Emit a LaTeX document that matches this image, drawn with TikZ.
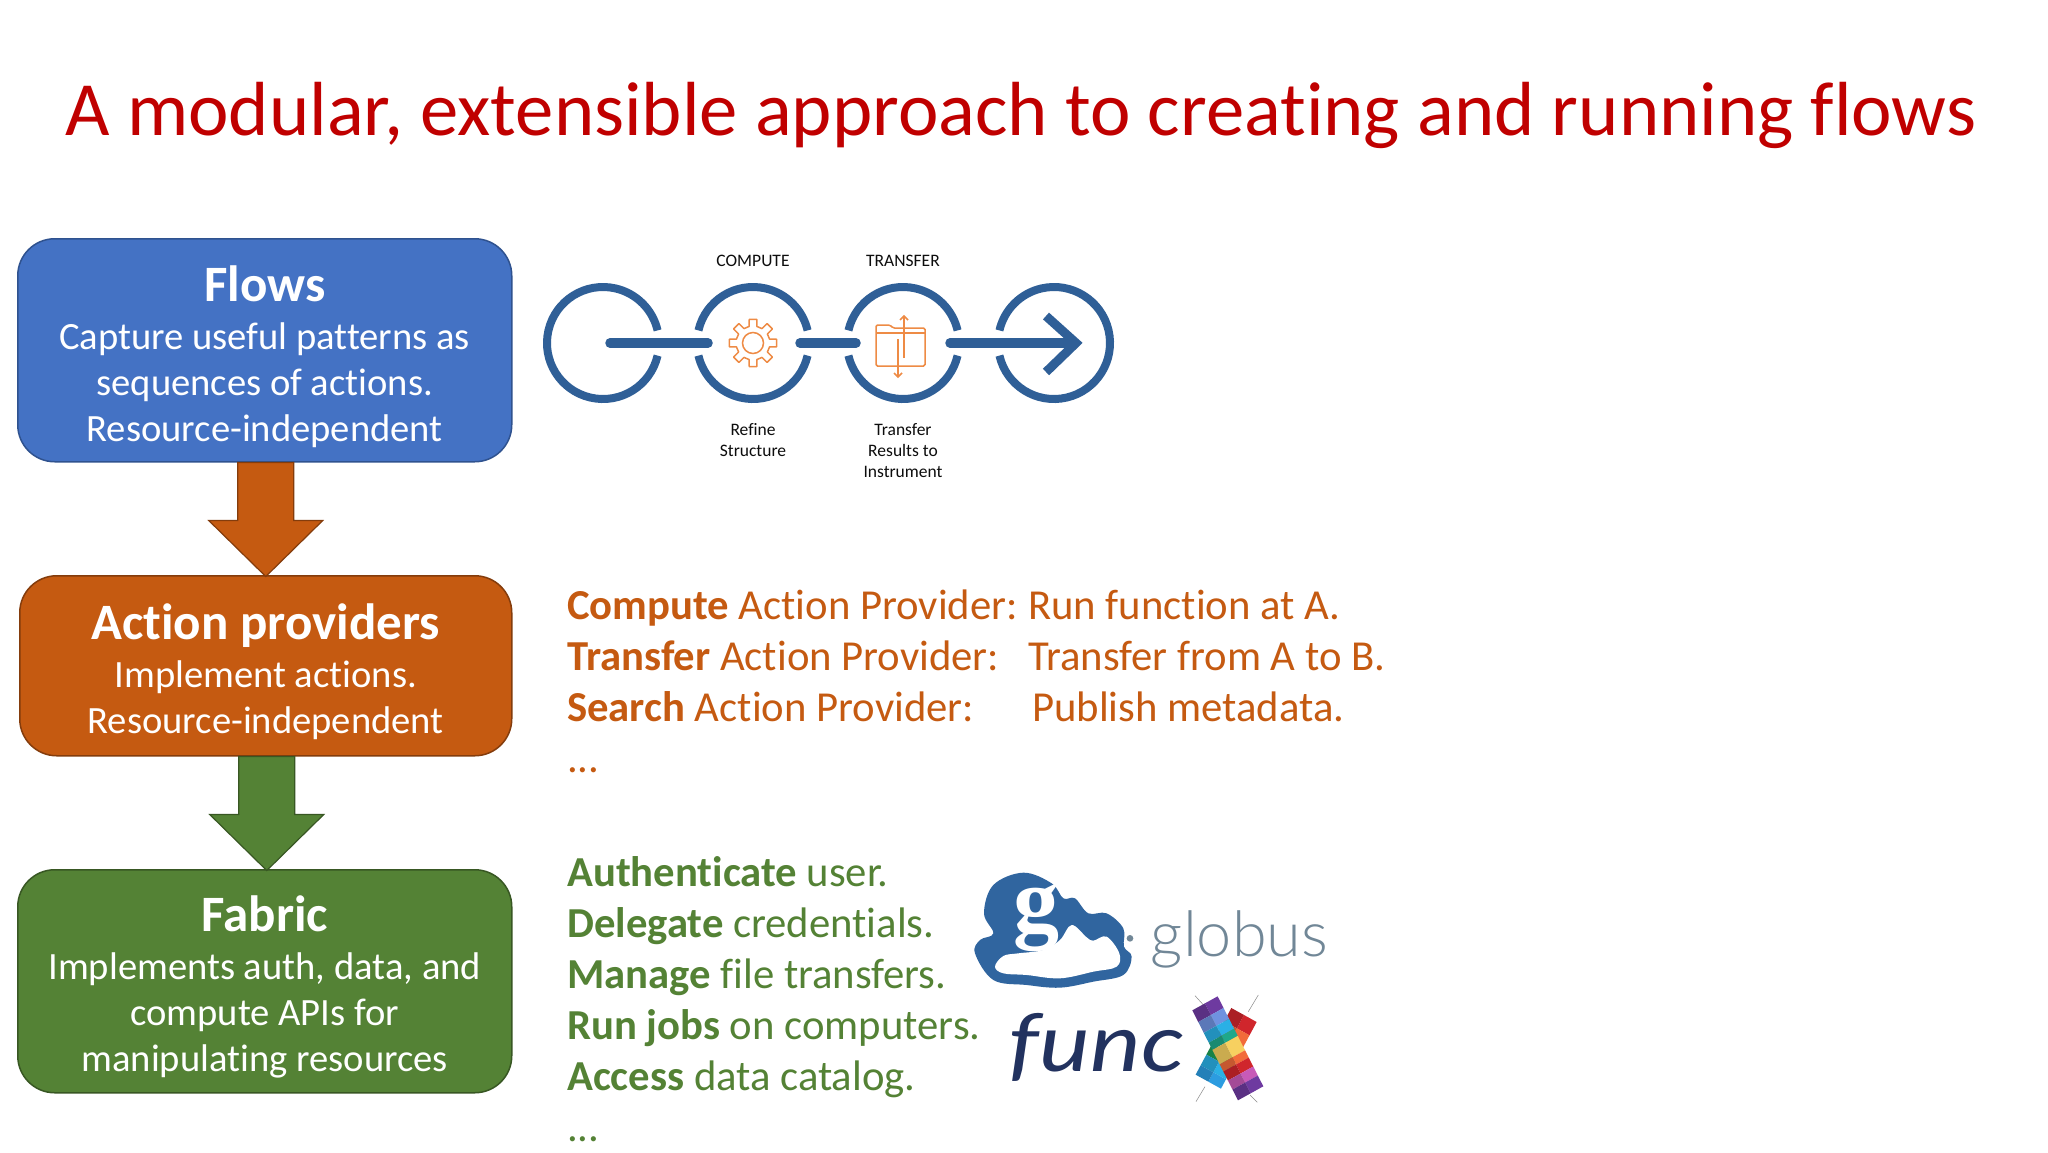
\documentclass[tikz,border=0pt]{standalone}
\usepackage{fontspec}
\setmainfont[RawFeature={-liga}]{Carlito}
\newfontfamily\lato{Lato}
\newfontfamily\latolight{Lato Light}
\newfontfamily\serifg{Liberation Serif}
\usetikzlibrary{calc}
\definecolor{tred}{HTML}{C00000}
\definecolor{bblue}{HTML}{4472C4}
\definecolor{bblueD}{HTML}{2F528F}
\definecolor{borange}{HTML}{C55A11}
\definecolor{borangeD}{HTML}{843C0C}
\definecolor{bgreen}{HTML}{548235}
\definecolor{bgreenD}{HTML}{385723}
\definecolor{flowblue}{HTML}{2F5F97}
\definecolor{iconorange}{HTML}{EE8B45}
\definecolor{globusblue}{HTML}{30659F}
\definecolor{globusgrey}{HTML}{718797}
\definecolor{funcnavy}{HTML}{22325F}
\definecolor{xpurple}{HTML}{6E3AA0}
\definecolor{xperi}{HTML}{6F92E0}
\definecolor{xsky}{HTML}{2AB0E5}
\definecolor{xteal}{HTML}{1FA88A}
\definecolor{xyellow}{HTML}{F7D060}
\definecolor{xorange}{HTML}{F26B3A}
\definecolor{xred}{HTML}{D0262C}
\definecolor{xmag}{HTML}{C85AB8}
\definecolor{xgreen}{HTML}{1F9E55}
\definecolor{xblue}{HTML}{2C9CE0}
\tikzset{
  box/.style={draw=#1D,fill=#1,line width=1.5pt,rounded corners=37pt,text=white,
    minimum width=494pt,align=center,text width=480pt,inner sep=0pt,anchor=north west,
    font=\fontsize{38.6}{46}\selectfont},
  ln/.style={anchor=base west,inner sep=0pt,font=\fontsize{42.7}{48}\selectfont},
  ring/.style={draw=flowblue,line width=8pt},
  flowline/.style={draw=flowblue,line width=9.5pt,line cap=round},
  captxt/.style={font=\fontsize{17.5}{21}\selectfont,text=black!95,inner sep=0pt,anchor=base},
  icon/.style={draw=iconorange,line width=1.5pt},
  tickline/.style={draw=black!45,line width=.5pt}
}
\newcommand{\boxhead}[1]{{\fontsize{51}{52}\selectfont\bfseries\spaceskip=.226em\rule{0pt}{48pt}#1}\\[2pt]\spaceskip=.226em }
\newcommand{\blockarrow}[3]{%
  \draw[draw=#3,fill=#2,line width=1.2pt]
    ($(#1.south)+(-27,0)$) -- ($(#1.south)+(-27,58)$) -- ($(#1.south)+(-56,58)$)
    -- ($(#1.south)+(1,114)$) -- ($(#1.south)+(58,58)$) -- ($(#1.south)+(29,58)$)
    -- ($(#1.south)+(29,0)$) -- cycle;}
% one facet pair of a bar of the X: #1 start, #2 end, #3 colour, #4 #5 axis ends, #6 half width
\newcommand{\xband}[6]{%
  \fill[#3] ($(#4)!#1!(#5)+(#6)$) -- ($(#4)!#2!(#5)+(#6)$) -- ($(#4)!#2!(#5)$) -- ($(#4)!#1!(#5)$) -- cycle;
  \fill[#3!82!black] ($(#4)!#1!(#5)-(#6)$) -- ($(#4)!#2!(#5)-(#6)$) -- ($(#4)!#2!(#5)$) -- ($(#4)!#1!(#5)$) -- cycle;}
\begin{document}
\begin{tikzpicture}[x=1pt,y=-1pt]
\useasboundingbox (0,0) rectangle (2048,1152);
\fill[white] (0,0) rectangle (2048,1152);
\node[anchor=base,inner sep=0pt,text=tred,font=\fontsize{76.7}{84}\selectfont] (title) at (1021,135) {A modular, extensible approach to creating and running flows};

% boxes
\node[box=bblue,minimum height=223pt] (flows) at (17,238)
  {\boxhead{Flows}Capture useful patterns as\\sequences of actions.\\Resource-independent};
\node[box=borange,minimum height=180pt,minimum width=492pt] (action) at (19,575)
  {\boxhead{Action providers}Implement actions.\\Resource-independent};
\node[box=bgreen,minimum height=223pt] (fabric) at (17,869)
  {\boxhead{Fabric}Implements auth, data, and\\compute APIs for\\manipulating resources};
\blockarrow{flows}{borange}{borangeD}
\blockarrow{action}{bgreen}{bgreenD}

% flow strip
\draw[ring] (603,343) ++(13:56) arc (13:347:56);
\draw[ring] (753,343) ++(13:56) arc (13:167:56);
\draw[ring] (753,343) ++(193:56) arc (193:347:56);
\draw[ring] (903,343) ++(13:56) arc (13:167:56);
\draw[ring] (903,343) ++(193:56) arc (193:347:56);
\draw[ring] (1054,343) ++(167:56) arc (167:-167:56);
\coordinate (l1a) at (610,343); \coordinate (l1b) at (708,343);
\coordinate (l2a) at (800,343); \coordinate (l2b) at (856,343);
\coordinate (l3a) at (950,343); \coordinate (l3b) at (1074,343);
\coordinate (cha) at (1046,316); \coordinate (chb) at (1076,343); \coordinate (chc) at (1046,372);
\draw[flowline] (l1a) -- (l1b);
\draw[flowline] (l2a) -- (l2b);
\draw[flowline] (l3a) -- (l3b);
\draw[draw=flowblue,line width=9pt,miter limit=4] (cha) -- (chb) -- (chc);
% gear
\draw[icon] (753,343) circle (10.5);
\draw[icon,line join=round] ($(753,343)+(-13:17)$)
  \foreach \a in {0,45,...,315} {
    -- ($(753,343)+(\a-13:17)$) -- ($(753,343)+(\a-9:24)$) -- ($(753,343)+(\a+9:24)$) -- ($(753,343)+(\a+13:17)$)
  } -- cycle;
% folder
\draw[icon,rounded corners=1.5pt] (876,366) -- (876,325) -- (890,325) -- (893,328) -- (925,328) -- (925,366) -- cycle;
\draw[icon] (876,333) -- (925,333);
\draw[icon] (904,358) -- (904,316);
\draw[icon] (900,320) -- (904,316) -- (908,320);
\draw[icon] (898,339) -- (898,377);
\draw[icon] (894,373) -- (898,377) -- (902,373);
% captions
\node[captxt] (c1) at (753,266) {COMPUTE};
\node[captxt] (c2) at (903,266) {TRANSFER};
\node[captxt] (c3) at (753,435) {Refine};
\node[captxt] (c4) at (753,456) {Structure};
\node[captxt] (c5) at (903,435) {Transfer};
\node[captxt] (c6) at (903,456) {Results to};
\node[captxt] (c7) at (903,477) {Instrument};

% orange list
\node[ln,text=borange] (a1) at (567,619) {\textbf{Compute} Action Provider:};
\node[ln,text=borange] (a1b) at (1028,619) {Run function at A.};
\node[ln,text=borange] (a2) at (567,670) {\textbf{Transfer} Action Provider:};
\node[ln,text=borange] (a2b) at (1028,670) {Transfer from A to B.};
\node[ln,text=borange] (a3) at (567,721) {\textbf{Search} Action Provider:};
\node[ln,text=borange] (a3b) at (1032,721) {Publish metadata.};
\node[ln,text=borange] (a4) at (567,772) {...};

% green list
\node[ln,text=bgreen] (g1) at (567,886) {\textbf{Authenticate} user.};
\node[ln,text=bgreen] (g2) at (567,937) {\textbf{Delegate} credentials.};
\node[ln,text=bgreen] (g3) at (567,988) {\textbf{Manage} file transfers.};
\node[ln,text=bgreen] (g4) at (567,1039) {\textbf{Run jobs} on computers.};
\node[ln,text=bgreen] (g5) at (567,1090) {\textbf{Access} data catalog.};
\node[ln,text=bgreen] (g6) at (567,1141) {...};

% globus logo
\begin{scope}[shift={(960,850)},x=.3333pt,y=-.3333pt]
\fill[globusblue] plot[smooth cycle,tension=.6] coordinates {(100,390)(45,310)(60,270)(100,250)(72,190)(100,105)(190,68)(275,100)(310,145)(345,145)(385,190)(440,190)(490,235)(492,290)(515,320)(490,375)(400,395)(300,413)(200,405)};
\fill[white] plot[smooth cycle,tension=.6] coordinates {(105,350)(130,318)(175,310)(250,300)(300,270)(335,225)(380,262)(400,272)(440,260)(478,310)(470,350)(400,365)(300,385)(200,375)(130,370)};
\node[text=white,inner sep=0pt,anchor=base,font=\fontsize{92}{94}\selectfont\serifg\bfseries] (gmark) at (228,245) {g};
\fill[globusgrey] (510,265) circle (10);
\node[text=globusgrey,inner sep=0pt,anchor=base west,font=\fontsize{63}{64}\selectfont\latolight] (gword) at (572,318) {globus};
\end{scope}

% funcX logo
\begin{scope}[shift={(960,850)},x=.3333pt,y=-.3333pt]
\node[text=funcnavy,inner sep=0pt,anchor=base west,xscale=1.2,font=\fontsize{80}{84}\selectfont\lato\itshape] (fword) at (145,666) {func};
\draw[tickline] (705,437) -- (735,470);
\draw[tickline] (895,435) -- (865,485);
\draw[tickline] (708,755) -- (735,710);
\draw[tickline] (892,757) -- (870,735);
\coordinate (xa) at (735,460); \coordinate (xb) at (872,730); \coordinate (xp) at (38,-21);
\coordinate (xc) at (852,495); \coordinate (xd) at (745,695); \coordinate (xq) at (38,21);
\xband{0}{.2}{xred}{xc}{xd}{xq}
\xband{.2}{.42}{xorange}{xc}{xd}{xq}
\xband{.55}{.7}{xgreen}{xc}{xd}{xq}
\xband{.7}{.86}{xsky}{xc}{xd}{xq}
\xband{.86}{1}{xblue}{xc}{xd}{xq}
\xband{0}{.13}{xpurple}{xa}{xb}{xp}
\xband{.13}{.25}{xperi}{xa}{xb}{xp}
\xband{.25}{.36}{xsky}{xa}{xb}{xp}
\xband{.36}{.44}{xteal}{xa}{xb}{xp}
\xband{.44}{.6}{xyellow}{xa}{xb}{xp}
\xband{.6}{.68}{xorange}{xa}{xb}{xp}
\xband{.68}{.78}{xred}{xa}{xb}{xp}
\xband{.78}{.88}{xmag}{xa}{xb}{xp}
\xband{.88}{1}{xpurple}{xa}{xb}{xp}
\end{scope}
\end{tikzpicture}
\end{document}
